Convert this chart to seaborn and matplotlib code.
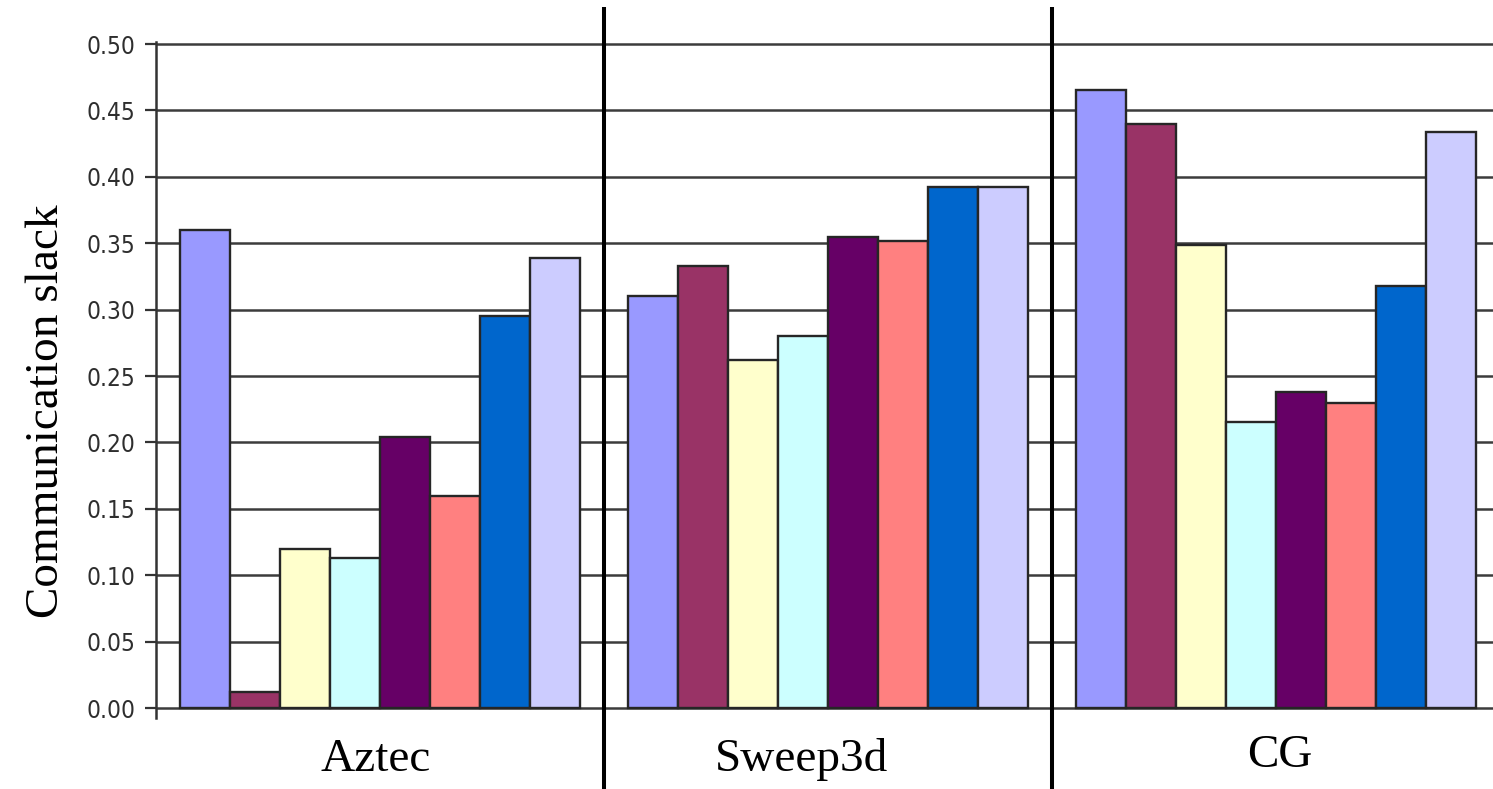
import matplotlib
matplotlib.use("Agg")
import matplotlib.pyplot as plt
import matplotlib.transforms as mtransforms
import numpy as np
import pandas as pd
import seaborn as sns

# Benchmarks and the eight configurations plotted for each
benchmarks = ["Aztec", "Sweep3d", "CG"]
configs = ["C1", "C2", "C3", "C4", "C5", "C6", "C7", "C8"]

aztec = [0.360, 0.012, 0.120, 0.113, 0.204, 0.160, 0.295, 0.339]
sweep3d = [0.310, 0.333, 0.262, 0.280, 0.355, 0.352, 0.392, 0.392]
cg = [0.465, 0.440, 0.349, 0.215, 0.238, 0.230, 0.318, 0.434]

y_ticks = [0.00, 0.05, 0.10, 0.15, 0.20, 0.25, 0.30, 0.35, 0.40, 0.45, 0.50]

palette = ["#9999FF", "#993366", "#FFFFCC", "#CCFFFF",
           "#660066", "#FF8080", "#0066CC", "#CCCCFF"]

rows = []
for bench, vals in zip(benchmarks, [aztec, sweep3d, cg]):
    for cfg, v in zip(configs, vals):
        rows.append({"benchmark": bench, "config": cfg, "slack": v})
df = pd.DataFrame(rows)

sns.set_theme(style="white")
plt.rcParams["font.family"] = ["DejaVu Sans"]

W, H = 1493, 789
fig = plt.figure(figsize=(W / 100, H / 100), dpi=100)

y_lo, y_hi = -0.0075, 0.5015
px_per_unit = 1328.0
ax_left_px = 156
ax_bottom_px = 708 + (0 - y_lo) * px_per_unit
ax_top_px = 708 - y_hi * px_per_unit
group_px = 448
ax = fig.add_axes([ax_left_px / W, 1 - ax_bottom_px / H,
                   3 * group_px / W, (ax_bottom_px - ax_top_px) / H])

sns.barplot(data=df, x="benchmark", y="slack", hue="config",
            order=benchmarks, hue_order=configs, palette=palette,
            width=0.893, saturation=1, edgecolor="#262626", linewidth=1.7,
            legend=False, ax=ax, zorder=3)

ax.set_xlim(-0.5, 2.5)
ax.set_ylim(y_lo, y_hi)
ax.set_yticks(y_ticks)
ax.set_yticklabels([f"{t:.2f}" for t in y_ticks], family="DejaVu Sans",
                   stretch="condensed", fontsize=17.5, color="#2e2e2e")
ax.tick_params(axis="y", length=8, width=1.6, color="#333333", pad=7, left=True)
ax.set_xticks([])
ax.set_xlabel("")
ax.set_ylabel("")

ax.yaxis.grid(True, color="#3c3c3c", linewidth=1.8, zorder=0)
ax.set_axisbelow(True)
for side in ["top", "right", "bottom"]:
    ax.spines[side].set_visible(False)
ax.spines["left"].set_color("#333333")
ax.spines["left"].set_linewidth(1.8)

# Benchmark names under each group
label_x = [-0.01, 0.94, 2.009]
label_y = [771, 771, 767]
trans_xfig = mtransforms.blended_transform_factory(ax.transData, fig.transFigure)
for name, x, yb in zip(benchmarks, label_x, label_y):
    ax.text(x, 1 - yb / H, name, transform=trans_xfig, ha="center",
            va="baseline", fontsize=34, family="Liberation Serif", color="black")

# Heavy separators between benchmark groups
for x in [0.5, 1.5]:
    ax.plot([x, x], [0.0, 1 - 7 / H], transform=trans_xfig, color="black",
            linewidth=2.9, clip_on=False, zorder=5, solid_capstyle="butt")

fig.text(47 / W, 1 - 411 / H, "Communication slack", rotation=90,
         ha="center", va="center", fontsize=34, family="Liberation Serif",
         color="black")

fig.savefig("out.png", dpi=100)
